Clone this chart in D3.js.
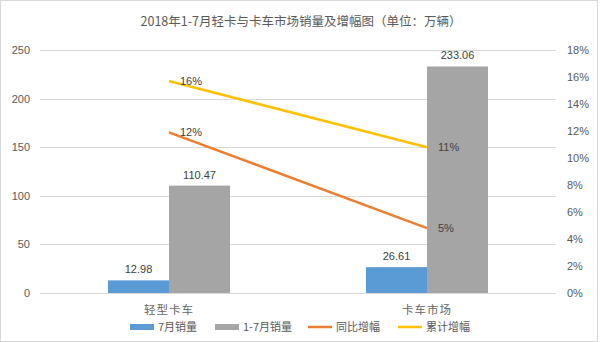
<!DOCTYPE html>
<html>
<head>
<meta charset="utf-8">
<script src="https://cdn.jsdelivr.net/npm/d3@7/dist/d3.min.js"></script>
<style>
  html, body { margin: 0; padding: 0; background: #fff; }
  svg { display: block; font-family: "Noto Sans CJK SC", "Microsoft YaHei", sans-serif; }
</style>
</head>
<body>
<svg id="chart" width="600" height="342"></svg>
<script>
// Sales volume (10k vehicles) and growth rates
const categories = ["轻型卡车", "卡车市场"];
const julySales = [12.98, 26.61];
const ytdSales = [110.47, 233.06];
const yoyGrowth = [0.119, 0.048];
const cumGrowth = [0.157, 0.108];
const leftTicks = [0, 50, 100, 150, 200, 250];
const rightTicks = [0, 0.02, 0.04, 0.06, 0.08, 0.10, 0.12, 0.14, 0.16, 0.18];
const seriesNames = ["7月销量", "1-7月销量", "同比增幅", "累计增幅"];
const colors = ["#5B9BD5", "#A5A5A5", "#ED7D31", "#FFC000"];

const svg = d3.select("#chart");
const W = 600, H = 342;
const plot = { left: 40, right: 556, top: 50, bottom: 293 };

// Chart frame
svg.append("rect").attr("x", 0.5).attr("y", 0.5).attr("width", 597).attr("height", H - 1)
  .attr("fill", "#fff").attr("stroke", "#d9d9d9");

const x = d3.scaleBand().domain(categories).range([plot.left, plot.right]);
const barW = 61;
const yL = d3.scaleLinear().domain([0, 250]).range([plot.bottom, plot.top]);
const yR = d3.scaleLinear().domain([0, 0.18]).range([plot.bottom, plot.top]);

// Title
svg.append("text").attr("x", 301).attr("y", 26).attr("text-anchor", "middle")
  .attr("font-size", 12.5).attr("fill", "#595959")
  .text("2018年1-7月轻卡与卡车市场销量及增幅图（单位：万辆）");

// Gridlines
svg.append("g").selectAll("line").data(leftTicks).join("line")
  .attr("x1", plot.left).attr("x2", plot.right)
  .attr("y1", d => Math.round(yL(d)) + 0.5).attr("y2", d => Math.round(yL(d)) + 0.5)
  .attr("stroke", "#d9d9d9").attr("stroke-width", 1);

// Left axis
const axL = svg.append("g").attr("transform", `translate(${plot.left},0)`)
  .call(d3.axisLeft(yL).tickValues(leftTicks).tickSize(0).tickPadding(10));
axL.select(".domain").remove();
axL.selectAll("text").attr("font-size", 11).attr("fill", "#595959")
  .attr("font-family", "'Liberation Sans', Arial, sans-serif");

// Right axis
const axR = svg.append("g").attr("transform", `translate(${plot.right},0)`)
  .call(d3.axisRight(yR).tickValues(rightTicks).tickFormat(d3.format(".0%")).tickSize(0).tickPadding(11));
axR.select(".domain").remove();
axR.selectAll("text").attr("font-size", 11).attr("fill", "#595959")
  .attr("font-family", "'Liberation Sans', Arial, sans-serif");

// Bars
const cx = c => x(c) + x.bandwidth() / 2;
const bars = [julySales, ytdSales];
bars.forEach((vals, s) => {
  const g = svg.append("g");
  g.selectAll("rect").data(categories).join("rect")
    .attr("x", (c) => cx(c) - barW + s * barW)
    .attr("y", (c, i) => yL(vals[i]))
    .attr("width", barW)
    .attr("height", (c, i) => yL(0) - yL(vals[i]))
    .attr("fill", colors[s]);
  g.selectAll("text").data(categories).join("text")
    .attr("x", (c) => cx(c) - barW / 2 + s * barW)
    .attr("y", (c, i) => yL(vals[i]) - 7)
    .attr("text-anchor", "middle")
    .attr("font-size", 11).attr("fill", "#404040")
    .attr("font-family", "'Liberation Sans', Arial, sans-serif")
    .text((c, i) => d3.format(".2f")(vals[i]));
});

// Growth lines
[yoyGrowth, cumGrowth].forEach((vals, k) => {
  const line = d3.line().x((d, i) => cx(categories[i])).y(d => yR(d));
  svg.append("path").datum(vals).attr("d", line)
    .attr("fill", "none").attr("stroke", colors[k + 2]).attr("stroke-width", 2.5);
  svg.append("g").selectAll("text").data(vals).join("text")
    .attr("x", (d, i) => cx(categories[i]) + 11)
    .attr("y", d => yR(d) + 4)
    .attr("font-size", 11).attr("fill", "#404040")
    .attr("font-family", "'Liberation Sans', Arial, sans-serif")
    .text(d => d3.format(".0%")(d));
});

// Category labels
svg.append("g").selectAll("text").data(categories).join("text")
  .attr("x", c => cx(c)).attr("y", 314).attr("text-anchor", "middle")
  .attr("font-size", 11.5).attr("fill", "#666").attr("letter-spacing", 1)
  .text(c => c);

// Legend
const legendX = [130, 215, 308, 398];
const lg = svg.append("g");
seriesNames.forEach((name, i) => {
  if (i < 2) {
    lg.append("rect").attr("x", legendX[i]).attr("y", 324).attr("width", 24).attr("height", 6)
      .attr("fill", colors[i]);
  } else {
    lg.append("line").attr("x1", legendX[i]).attr("x2", legendX[i] + 24)
      .attr("y1", 327).attr("y2", 327).attr("stroke", colors[i]).attr("stroke-width", 2.5);
  }
  lg.append("text").attr("x", legendX[i] + 28).attr("y", 331)
    .attr("font-size", 11).attr("fill", "#595959").text(name);
});
</script>
</body>
</html>
